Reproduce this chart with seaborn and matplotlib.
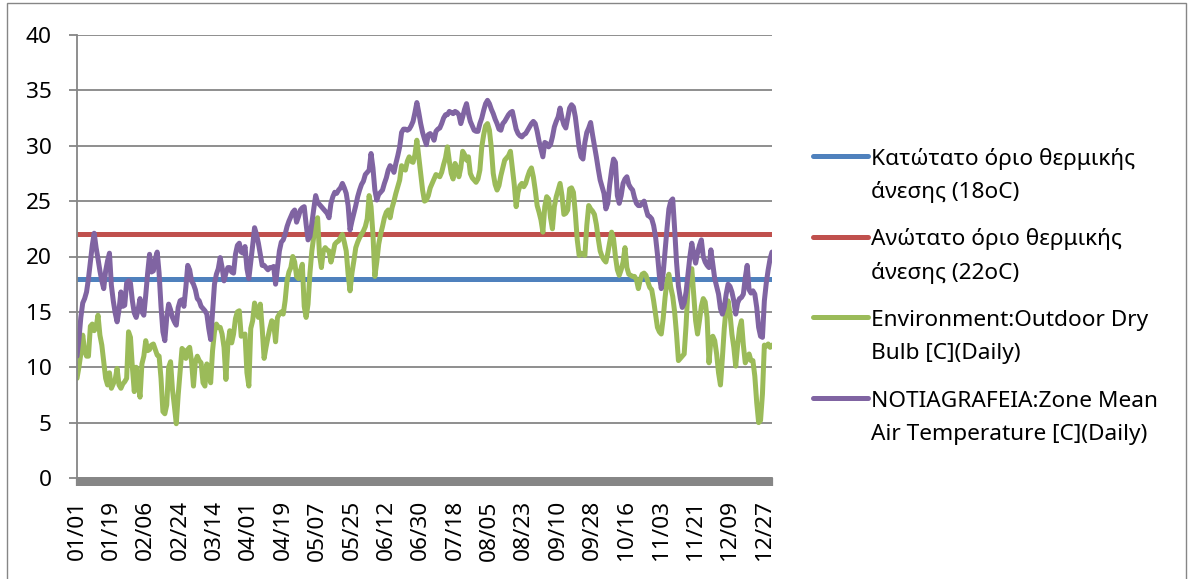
import numpy as np
import pandas as pd
import matplotlib
matplotlib.use("Agg")
import matplotlib.pyplot as plt
import seaborn as sns
from matplotlib.patches import Rectangle
from matplotlib.lines import Line2D

# ---------------- data ----------------
tick_labels = ["01/01", "01/19", "02/06", "02/24", "03/14", "04/01", "04/19",
               "05/07", "05/25", "06/12", "06/30", "07/18", "08/05", "08/23",
               "09/10", "09/28", "10/16", "11/03", "11/21", "12/09", "12/27"]

lower_limit = 18.0   # Κατώτατο όριο θερμικής άνεσης
upper_limit = 22.0   # Ανώτατο όριο θερμικής άνεσης

outdoor_dry_bulb = [
    9.0, 10.0, 11.2, 12.9, 11.5, 11.0, 11.0, 13.7, 13.9, 13.3,
    13.6, 14.7, 12.9, 12.0, 10.5, 9.0, 8.4, 9.5, 8.1, 8.5,
    8.9, 9.9, 8.4, 8.1, 8.5, 8.7, 9.0, 13.2, 12.7, 10.0,
    7.8, 10.0, 8.5, 7.3, 10.3, 11.0, 12.4, 11.5, 11.6, 12.0,
    12.1, 11.6, 11.1, 11.0, 9.0, 6.0, 5.8, 6.6, 10.0, 10.5,
    8.0, 6.5, 4.9, 7.5, 9.6, 11.7, 11.5, 10.8, 11.6, 11.8,
    10.5, 8.3, 10.5, 11.0, 10.6, 10.4, 8.6, 8.3, 10.3, 9.5,
    8.6, 11.5, 13.2, 13.9, 13.6, 13.6, 13.0, 11.8, 8.9, 12.0,
    13.3, 12.2, 13.0, 14.4, 15.0, 15.1, 12.8, 12.9, 13.0, 9.5,
    8.3, 13.5, 14.2, 15.8, 15.0, 14.5, 15.7, 13.5, 10.8, 11.8,
    12.7, 13.5, 14.2, 14.0, 12.3, 14.5, 14.8, 15.0, 14.8, 16.0,
    17.8, 18.6, 19.0, 20.0, 19.5, 18.2, 18.0, 18.7, 19.3, 15.5,
    14.5, 15.7, 18.5, 20.5, 21.8, 22.8, 23.5, 20.2, 19.0, 20.5,
    20.8, 20.6, 20.5, 19.5, 20.2, 21.1, 21.3, 21.4, 21.7, 22.0,
    21.3, 20.5, 18.4, 16.9, 18.5, 19.6, 20.8, 21.3, 21.7, 22.0,
    22.3, 22.7, 23.4, 25.5, 24.5, 22.0, 18.2, 19.5, 21.1, 22.0,
    22.7, 23.5, 24.0, 24.2, 23.5, 24.4, 25.0, 25.7, 26.3, 26.9,
    28.2, 28.0, 27.8, 28.6, 29.0, 28.6, 28.5, 29.2, 30.5, 29.0,
    27.5, 26.0, 25.0, 25.1, 25.5, 26.2, 26.6, 27.0, 27.4, 27.3,
    27.2, 27.6, 28.3, 28.9, 29.9, 28.6, 27.5, 27.0, 28.4, 28.0,
    27.2, 28.0, 29.5, 29.2, 28.7, 29.0, 27.5, 27.1, 26.9, 26.7,
    27.0, 27.8, 29.9, 31.0, 31.8, 32.0, 31.4, 29.8, 27.5, 26.5,
    26.0, 26.4, 27.3, 28.0, 28.7, 28.9, 29.1, 29.5, 28.0, 26.5,
    24.5, 25.8, 26.4, 26.6, 26.3, 26.6, 27.2, 27.7, 28.0, 27.2,
    26.0, 24.6, 24.0, 23.3, 22.2, 24.5, 25.4, 25.2, 23.5, 22.5,
    24.5, 25.4, 26.0, 26.6, 25.5, 23.8, 23.9, 24.2, 26.1, 26.2,
    25.8, 23.9, 21.5, 20.1, 20.3, 20.2, 20.1, 22.8, 24.6, 24.3,
    24.1, 23.8, 22.9, 21.6, 20.5, 20.0, 19.7, 19.5, 20.3, 21.3,
    22.2, 21.6, 20.0, 18.8, 18.3, 18.8, 19.5, 20.8, 19.0, 18.4,
    18.3, 18.2, 18.2, 17.9, 17.1, 17.9, 18.4, 18.5, 18.3, 17.7,
    17.2, 17.0, 16.0, 14.8, 13.6, 13.2, 13.0, 14.4, 16.3, 17.8,
    18.4, 17.2, 16.4, 15.0, 13.0, 10.6, 10.8, 11.0, 11.2, 13.8,
    17.2, 18.8, 18.9, 16.5, 14.2, 13.0, 14.2, 15.5, 16.2, 15.9,
    14.5, 10.4, 12.5, 12.8, 12.4, 11.2, 9.5, 8.4, 10.8, 13.5,
    15.4, 16.0, 14.8, 13.0, 11.8, 10.1, 12.0, 13.5, 14.2, 12.0,
    10.4, 10.8, 11.2, 10.6, 10.6, 9.2, 6.8, 5.0, 5.2, 7.6,
    12.0, 11.9, 12.1, 11.8, 12.0,
]

zone_mean_air = [
    11.0, 12.5, 14.5, 15.8, 16.2, 16.8, 18.0, 19.5, 21.0, 22.1,
    20.8, 19.8, 18.7, 17.8, 17.1, 18.7, 19.6, 20.3, 17.4, 16.0,
    14.9, 14.1, 15.2, 16.8, 15.5, 15.6, 17.6, 17.8, 17.6, 16.0,
    14.9, 14.5, 15.2, 16.2, 15.0, 14.7, 16.5, 18.5, 20.2, 18.6,
    18.7, 19.8, 20.4, 18.5, 15.5, 13.2, 12.4, 14.5, 15.7, 15.2,
    14.5, 14.1, 13.8, 15.4, 16.0, 16.1, 15.5, 17.2, 19.2, 18.8,
    17.8, 17.5, 17.0, 16.2, 16.0, 15.5, 15.3, 15.1, 14.8, 13.5,
    12.5, 15.0, 17.5, 18.4, 18.9, 19.9, 19.0, 17.8, 18.5, 19.0,
    19.0, 18.6, 18.5, 20.2, 21.0, 21.2, 20.4, 20.3, 20.9, 18.9,
    18.0, 19.5, 21.0, 22.6, 22.0, 21.2, 20.2, 19.2, 19.2, 19.0,
    18.8, 19.0, 19.0, 19.1, 17.5, 19.0, 20.5, 21.3, 21.5, 22.0,
    22.7, 23.2, 23.6, 24.0, 24.2, 23.1, 23.6, 24.2, 24.4, 24.5,
    22.9, 21.5, 21.8, 23.0, 24.3, 25.5, 24.9, 24.7, 24.5, 24.3,
    24.1, 23.9, 23.5, 24.8, 25.4, 25.8, 25.7, 26.0, 26.2, 26.6,
    26.2, 25.7, 24.6, 22.4, 23.2, 23.9, 24.6, 25.4, 26.0, 26.5,
    26.8, 27.4, 27.6, 27.8, 29.3, 28.0, 26.0, 25.1, 25.6, 25.8,
    26.0, 26.6, 27.1, 27.8, 28.2, 28.0, 27.6, 28.4, 29.1, 29.9,
    31.2, 31.5, 31.5, 31.4, 31.5, 31.8, 32.2, 33.0, 33.9, 33.0,
    32.0, 31.2, 30.6, 30.1, 31.0, 31.1, 30.9, 30.5, 31.3, 31.5,
    31.6, 32.0, 32.5, 32.8, 32.8, 33.1, 33.0, 32.9, 33.1, 33.0,
    32.8, 32.0, 32.6, 33.3, 33.8, 32.9, 32.2, 31.8, 31.4, 31.3,
    31.3, 32.0, 32.5, 33.2, 33.8, 34.1, 33.8, 33.3, 32.9, 32.4,
    32.0, 31.5, 31.4, 32.0, 32.2, 32.5, 32.8, 33.0, 33.1, 32.3,
    31.5, 31.1, 30.9, 30.8, 31.0, 31.1, 31.4, 31.7, 32.0, 32.2,
    32.0, 31.3, 30.4, 29.7, 29.0, 30.3, 30.2, 29.9, 30.1, 30.8,
    31.7, 32.2, 32.6, 33.4, 32.5, 31.9, 31.6, 32.5, 33.4, 33.7,
    33.5, 32.6, 31.2, 29.8, 29.0, 28.8, 30.3, 31.2, 31.6, 32.1,
    31.0, 30.0, 29.0, 27.9, 26.9, 26.3, 25.7, 24.3, 24.8, 26.5,
    27.8, 28.8, 28.5, 25.5, 24.8, 25.5, 26.6, 27.0, 27.2, 26.5,
    26.2, 26.0, 25.3, 24.8, 24.6, 24.6, 24.8, 25.0, 24.3, 23.7,
    23.6, 23.4, 22.8, 21.8, 20.2, 18.3, 17.1, 18.5, 20.5, 22.5,
    24.3, 25.0, 25.2, 22.5, 19.5, 17.3, 16.2, 15.4, 15.8, 16.8,
    18.4, 20.0, 21.2, 20.2, 19.4, 20.3, 21.0, 21.5, 20.0, 19.5,
    19.2, 19.0, 20.6, 19.3, 18.0, 17.3, 16.6, 15.3, 14.8, 15.4,
    16.6, 17.5, 17.3, 16.8, 16.0, 14.8, 15.8, 16.2, 16.3, 16.6,
    18.1, 19.2, 17.0, 16.7, 16.9, 16.6, 15.4, 13.6, 12.8, 12.7,
    16.0, 17.6, 18.8, 19.8, 20.4,
]

series_names = [
    "Κατώτατο όριο θερμικής\nάνεσης (18oC)",
    "Ανώτατο όριο θερμικής\nάνεσης (22oC)",
    "Environment:Outdoor Dry\nBulb [C](Daily)",
    "NOTIAGRAFEIA:Zone Mean\nAir Temperature [C](Daily)",
]
colors = ["#4F81BD", "#C0504D", "#9BBB59", "#8064A2"]

# ---------------- build table ----------------
n_days = len(zone_mean_air)
dates = pd.date_range("2013-01-01", periods=n_days, freq="D")
day_idx = np.arange(n_days)
values = [np.full(n_days, lower_limit), np.full(n_days, upper_limit),
          np.asarray(outdoor_dry_bulb), np.asarray(zone_mean_air)]
df = pd.DataFrame({
    "day": np.tile(day_idx, 4),
    "value": np.concatenate(values),
    "series": np.repeat(series_names, n_days),
})

# ---------------- style ----------------
sns.set_style("white")
plt.rcParams["font.family"] = ["Noto Sans", "DejaVu Sans"]
grid_col = "#868686"
fs = 16.3
W, H = 1189, 579

fig = plt.figure(figsize=(W / 100, H / 100), dpi=100)
ax = fig.add_axes([77 / W, 101 / H, 695 / W, 443 / H])

sns.lineplot(data=df, x="day", y="value", hue="series", hue_order=series_names,
             palette=colors, linewidth=3.6, errorbar=None, sort=False,
             legend=False, ax=ax)
for ln in ax.lines:
    ln.set_solid_capstyle("round")
    ln.set_solid_joinstyle("round")

ax.set_xlim(0, n_days - 1)
ax.set_ylim(0, 40)
ax.set_yticks(np.arange(0, 41, 5))
ax.set_xticks(np.arange(0, n_days, 18))
ax.set_xticklabels(tick_labels, rotation=90)
ax.set_xticks(day_idx, minor=True)
ax.set_xlabel("")
ax.set_ylabel("")

ax.yaxis.grid(True, color=grid_col, linewidth=1.3)
ax.xaxis.grid(False)
ax.set_axisbelow(True)
for s in ["top", "right"]:
    ax.spines[s].set_visible(False)
ax.spines["left"].set_color(grid_col)
ax.spines["left"].set_linewidth(1.3)
ax.spines["bottom"].set_color(grid_col)
ax.spines["bottom"].set_linewidth(1.3)

ax.tick_params(axis="y", which="major", length=6, width=1.3, color=grid_col,
               pad=12, labelsize=fs, labelcolor="black", left=True)
ax.tick_params(axis="x", which="both", length=6, width=1.6, color=grid_col,
               direction="out", bottom=True)
ax.tick_params(axis="x", which="major", pad=10, labelsize=fs, labelcolor="black")

# legend (handle aligned with the first text line, as in the spreadsheet chart)
leg_handle_x0, leg_handle_x1, leg_text_x = 813, 868, 871
leg_first_y, leg_entry_pitch, leg_line_pitch = 156, 80.7, 33.3
for i, (name, col) in enumerate(zip(series_names, colors)):
    yc = leg_first_y + i * leg_entry_pitch
    fig.add_artist(Line2D([leg_handle_x0 / W, leg_handle_x1 / W],
                          [1 - yc / H, 1 - yc / H], transform=fig.transFigure,
                          color=col, linewidth=3.6, solid_capstyle="round"))
    for j, part in enumerate(name.split("\n")):
        yb = yc + 8.5 + j * leg_line_pitch
        fig.text(leg_text_x / W, 1 - yb / H, part, fontsize=fs,
                 ha="left", va="baseline", color="black")

# outer chart border
fig.add_artist(Rectangle((7 / W, -0.01), 1179 / W, 1 - 3 / H + 0.01,
                         transform=fig.transFigure, fill=False,
                         edgecolor=grid_col, linewidth=1.0))

fig.savefig("out.png", dpi=100)
